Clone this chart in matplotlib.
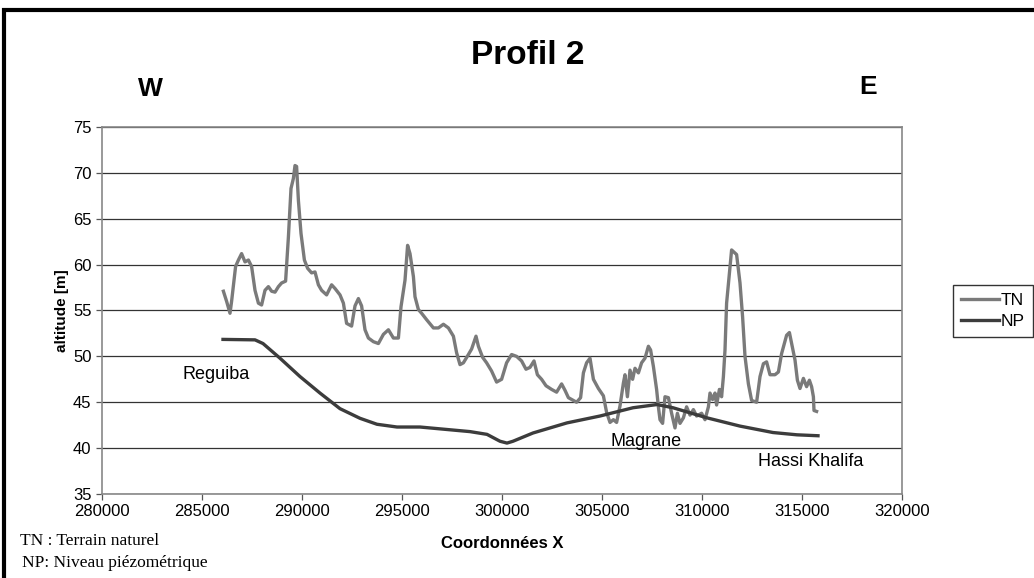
import matplotlib.pyplot as plt
from matplotlib.patches import Rectangle

# profil TN (terrain naturel)
tn_x = [286070, 286230, 286400, 286480, 286680, 286820, 286980, 287150, 287320, 287480,
        287650, 287820, 287980, 288150, 288320, 288480, 288650, 288820, 288980, 289180,
        289320, 289450, 289570, 289650, 289730, 289820, 289950, 290120, 290280, 290480,
        290650, 290820, 290980, 291230, 291480, 291650, 291900, 292070, 292230, 292480,
        292650, 292820, 292980, 293150, 293320, 293570, 293820, 294070, 294320, 294570,
        294820, 294950, 295150, 295280, 295400, 295570, 295650, 295820, 295980, 296230,
        296570, 296820, 297070, 297320, 297570, 297730, 297900, 298070, 298320, 298480,
        298700, 298820, 299030, 299230, 299480, 299730, 299980, 300230, 300480, 300730,
        300980, 301200, 301400, 301600, 301770, 301980, 302200, 302480, 302730, 302980,
        303150, 303320, 303570, 303730, 303930, 304070, 304230, 304400, 304570, 304820,
        305070, 305230, 305400, 305570, 305730, 305900, 306070, 306150, 306270, 306400,
        306530, 306650, 306820, 306980, 307150, 307320, 307430, 307570, 307730, 307820,
        307900, 308030, 308150, 308320, 308480, 308650, 308770, 308900, 309070, 309230,
        309400, 309570, 309730, 309980, 310150, 310320, 310400, 310530, 310650, 310730,
        310870, 310980, 311070, 311150, 311230, 311400, 311480, 311730, 311900, 312030,
        312150, 312320, 312480, 312730, 312900, 313070, 313230, 313400, 313650, 313820,
        313980, 314230, 314370, 314480, 314650, 314770, 314900, 315070, 315230, 315370,
        315480, 315570, 315600, 315730]
tn_y = [57.1, 56.0, 54.7, 56.0, 59.8, 60.5, 61.2, 60.3, 60.5, 59.8,
        57.2, 55.8, 55.6, 57.2, 57.6, 57.1, 57.0, 57.6, 58.0, 58.2,
        63.0, 68.3, 69.4, 70.8, 70.7, 67.0, 63.4, 60.5, 59.6, 59.1,
        59.2, 57.8, 57.2, 56.7, 57.8, 57.4, 56.7, 55.8, 53.6, 53.3,
        55.5, 56.3, 55.5, 52.9, 52.0, 51.6, 51.4, 52.4, 52.9, 52.0,
        52.0, 55.4, 58.3, 62.1, 61.2, 58.7, 56.5, 55.1, 54.7, 54.0,
        53.1, 53.1, 53.5, 53.1, 52.2, 50.4, 49.1, 49.3, 50.2, 50.8,
        52.2, 51.1, 49.9, 49.3, 48.4, 47.2, 47.5, 49.3, 50.2, 50.0,
        49.5, 48.6, 48.8, 49.5, 48.0, 47.5, 46.8, 46.4, 46.1, 47.0,
        46.3, 45.5, 45.2, 45.0, 45.5, 48.2, 49.3, 49.8, 47.5, 46.5,
        45.7, 43.9, 42.8, 43.1, 42.8, 44.6, 47.1, 48.0, 45.6, 48.5,
        47.5, 48.7, 48.2, 49.3, 49.8, 51.1, 50.7, 48.9, 46.4, 44.5,
        43.1, 42.7, 45.6, 45.5, 43.8, 42.2, 43.8, 42.7, 43.3, 44.5,
        43.6, 44.2, 43.5, 43.8, 43.1, 44.5, 46.0, 45.3, 46.0, 44.7,
        46.4, 45.6, 47.8, 50.7, 55.8, 59.8, 61.6, 61.1, 58.0, 54.3,
        50.0, 47.0, 45.2, 45.0, 47.8, 49.2, 49.4, 48.0, 48.0, 48.3,
        50.3, 52.3, 52.6, 51.4, 49.6, 47.4, 46.5, 47.6, 46.7, 47.4,
        46.7, 45.6, 44.1, 44.0]

# niveau piezometrique NP
np_x = [286050, 287650, 288050, 288900, 289900, 290900, 291900, 292900, 293750, 294750,
        295900, 296400, 298400, 299250, 299900, 300250, 300550, 301550, 303250, 304900,
        306550, 307750, 308550, 310250, 311900, 313550, 314750, 315800]
np_y = [51.85, 51.8, 51.4, 49.8, 47.8, 46.0, 44.3, 43.25, 42.6, 42.3,
        42.3, 42.2, 41.8, 41.5, 40.75, 40.55, 40.75, 41.65, 42.75, 43.5,
        44.4, 44.75, 44.4, 43.3, 42.4, 41.7, 41.45, 41.35]

x_ticks = list(range(280000, 320001, 5000))
y_ticks = list(range(35, 76, 5))

W, H = 1034, 578
fig = plt.figure(figsize=(W / 100, H / 100), dpi=100)
ax = fig.add_axes([102 / W, 1 - 494 / H, 800 / W, 367 / H])

ax.plot(tn_x, tn_y, color='#7a7a7a', lw=2.4, label='TN', zorder=3)
ax.plot(np_x, np_y, color='#3c3c3c', lw=2.4, label='NP', zorder=3)

ax.set_xlim(280000, 320000)
ax.set_ylim(35, 75)
ax.set_xticks(x_ticks)
ax.set_yticks(y_ticks)
ax.set_xticklabels([str(v) for v in x_ticks], fontsize=12, family='Liberation Sans')
ax.set_yticklabels([str(v) for v in y_ticks], fontsize=12, family='Liberation Sans')
ax.tick_params(direction='out', length=4, color='#555555', width=0.9)
ax.grid(axis='y', color='#333333', lw=0.9)
for s in ax.spines.values():
    s.set_color('#888888')
    s.set_linewidth(1.2)

ax.set_ylabel('altitude [m]', fontsize=11, fontweight='bold', family='Liberation Sans', labelpad=3)
ax.set_xlabel('Coordonnées X', fontsize=12, fontweight='bold', family='Liberation Sans', labelpad=12)

ax.text(284050, 48.0, 'Reguiba', fontsize=13, family='Liberation Sans', va='center')
ax.text(305400, 40.7, 'Magrane', fontsize=13, family='Liberation Sans', va='center')
ax.text(312800, 38.5, 'Hassi Khalifa', fontsize=13, family='Liberation Sans', va='center')

fig.text(528 / W, 1 - 55 / H, 'Profil 2', fontsize=24, fontweight='bold', family='Liberation Sans',
         ha='center', va='center')
fig.text(150 / W, 1 - 89 / H, 'W', fontsize=19, fontweight='bold', family='Liberation Sans',
         ha='center', va='center')
fig.text(868 / W, 1 - 87 / H, 'E', fontsize=19, fontweight='bold', family='Liberation Sans',
         ha='center', va='center')

fig.text(20 / W, 1 - 541 / H, 'TN : Terrain naturel', fontsize=12.5, family='Liberation Serif',
         va='center')
fig.text(22 / W, 1 - 563 / H, 'NP: Niveau piézométrique', fontsize=12.5, family='Liberation Serif',
         va='center')

leg = fig.legend(loc='center left', bbox_to_anchor=(953 / W, 1 - 311 / H), fontsize=12.5,
                 frameon=True, fancybox=False, edgecolor='black', handlelength=2.2,
                 borderpad=0.45, labelspacing=0.35, handletextpad=0.1, borderaxespad=0)
leg.get_frame().set_linewidth(1.0)
for t in leg.get_texts():
    t.set_family('Liberation Sans')

# cadre noir autour du graphique
fig.patches.append(Rectangle((4 / W, -0.1), 1.2, 1 - 10 / H + 0.1, transform=fig.transFigure,
                             fill=False, edgecolor='black', lw=3))

fig.savefig('out.png', dpi=100)
